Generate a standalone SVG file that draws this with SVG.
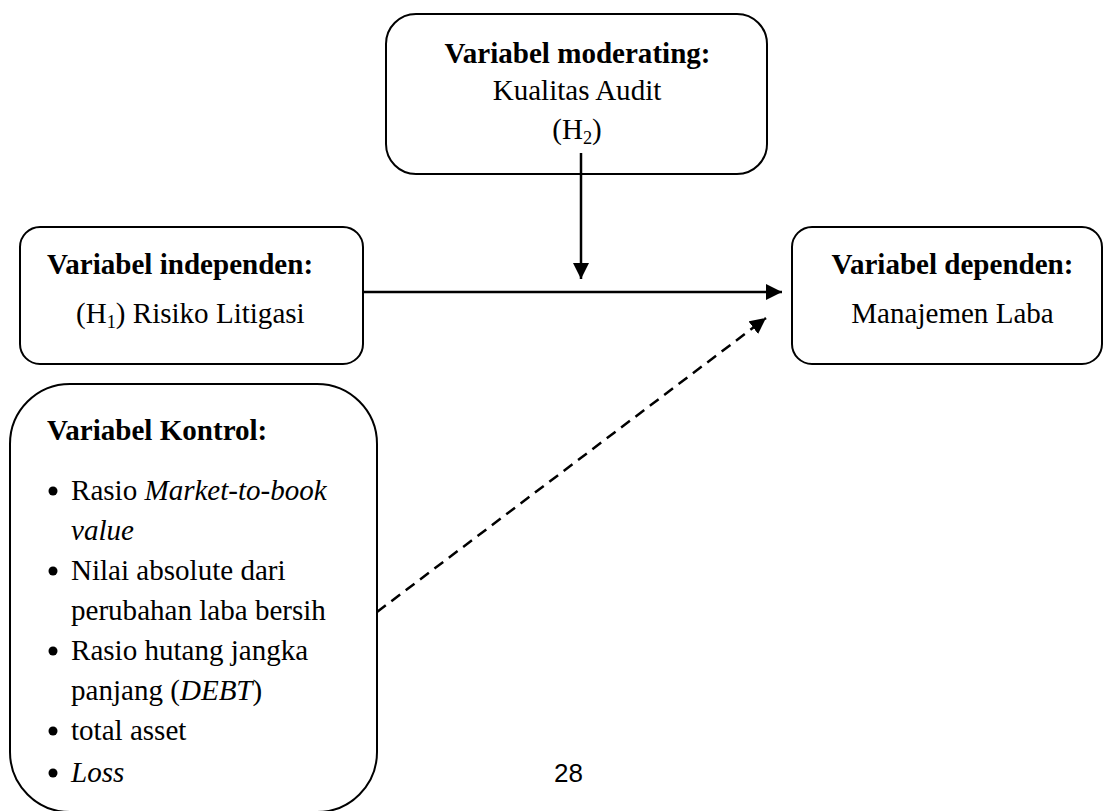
<svg xmlns="http://www.w3.org/2000/svg" width="1104" height="811" viewBox="0 0 1104 811">
<defs>
<style>
.box{fill:#fff;stroke:#000;stroke-width:2}
.t{font-family:"Liberation Serif","Times New Roman",serif;font-size:28.5px;fill:#000}
.b{font-weight:bold}
.i{font-style:italic}
.c{text-anchor:middle}
.sub{font-size:18px}
.conn{stroke:#000;stroke-width:2.5;fill:none}
.dash{stroke-dasharray:11 7}
</style>
<marker id="ah" markerUnits="userSpaceOnUse" markerWidth="16" markerHeight="16" refX="16" refY="8" orient="auto">
<path d="M0,0 L16,8 L0,16 Z" fill="#000"/>
</marker>
</defs>
<rect width="1104" height="811" fill="#fff"/>

<g id="moderating">
<rect class="box" x="386" y="14" width="381" height="160" rx="30"/>
<text class="t b c" transform="translate(577.5,63) scale(1.02,1)">Variabel moderating:</text>
<text class="t c" transform="translate(577,100) scale(1.02,1)">Kualitas Audit</text>
<text class="t c" transform="translate(577,139) scale(1.02,1)">(H<tspan class="sub" dy="5">2</tspan><tspan dy="-5">)</tspan></text>
</g>

<g id="independen">
<rect class="box" x="20" y="227" width="343" height="137" rx="20"/>
<text class="t b" transform="translate(47,274) scale(1.02,1)">Variabel independen:</text>
<text class="t" transform="translate(76,323) scale(1.02,1)">(H<tspan class="sub" dy="5">1</tspan><tspan dy="-5">) Risiko Litigasi</tspan></text>
</g>

<g id="dependen">
<rect class="box" x="792" y="227" width="310" height="137" rx="20"/>
<text class="t b c" transform="translate(952.5,274) scale(1.02,1)">Variabel dependen:</text>
<text class="t c" transform="translate(952.5,323) scale(1.02,1)">Manajemen Laba</text>
</g>

<g id="kontrol">
<rect class="box" x="10" y="384" width="367" height="428" rx="60"/>
<text class="t b" transform="translate(47,440) scale(1.02,1)">Variabel Kontrol:</text>
<g fill="#000">
<circle cx="53" cy="491" r="4.5"/>
<circle cx="53" cy="571" r="4.5"/>
<circle cx="53" cy="651" r="4.5"/>
<circle cx="53" cy="731" r="4.5"/>
<circle cx="53" cy="773" r="4.5"/>
</g>
<text class="t" transform="translate(71,500) scale(1.02,1)">Rasio <tspan class="i">Market-to-book</tspan></text>
<text class="t i" transform="translate(71,540) scale(1.02,1)">value</text>
<text class="t" transform="translate(71,580) scale(1.02,1)">Nilai absolute dari</text>
<text class="t" transform="translate(71,620) scale(1.02,1)">perubahan laba bersih</text>
<text class="t" transform="translate(71,660) scale(1.02,1)">Rasio hutang jangka</text>
<text class="t" transform="translate(71,700) scale(1.02,1)">panjang (<tspan class="i">DEBT</tspan>)</text>
<text class="t" transform="translate(71,740) scale(1.02,1)">total asset</text>
<text class="t i" transform="translate(71,782) scale(1.02,1)">Loss</text>
</g>

<g id="connectors">
<line class="conn" x1="581" y1="153" x2="581" y2="279" marker-end="url(#ah)"/>
<line class="conn" x1="363" y1="292" x2="782" y2="292" marker-end="url(#ah)"/>
<line class="conn dash" x1="377" y1="612" x2="766" y2="318" marker-end="url(#ah)"/>
</g>

<text x="554" y="782" font-family="Liberation Sans, Arial, sans-serif" font-size="26" fill="#000">28</text>
</svg>
